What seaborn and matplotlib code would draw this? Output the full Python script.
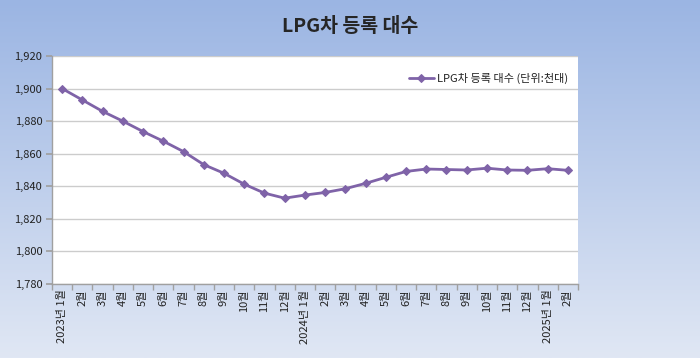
import numpy as np
import pandas as pd
import matplotlib
matplotlib.use("Agg")
import matplotlib.pyplot as plt
import seaborn as sns
from matplotlib.ticker import FuncFormatter

# 월별 LPG차 등록 대수 (단위: 천대)
months = ["2023년 1월", "2월", "3월", "4월", "5월", "6월", "7월", "8월", "9월", "10월", "11월", "12월",
          "2024년 1월", "2월", "3월", "4월", "5월", "6월", "7월", "8월", "9월", "10월", "11월", "12월",
          "2025년 1월", "2월"]
values = [1900.0, 1893.0, 1886.0, 1880.0, 1873.6, 1867.7, 1861.3, 1853.3, 1848.0, 1841.3, 1835.8, 1832.7,
          1834.6, 1836.2, 1838.5, 1841.8, 1845.5, 1849.1, 1850.6, 1850.3, 1850.0, 1851.1, 1850.0, 1849.8,
          1850.8, 1849.8]
series_name = "LPG차 등록 대수 (단위:천대)"
yticks = [1780, 1800, 1820, 1840, 1860, 1880, 1900, 1920]

df = pd.DataFrame({"idx": range(len(months)), "month": months, "value": values})

sns.set_theme(style="white")
plt.rcParams["font.family"] = ["Noto Sans CJK KR", "DejaVu Sans"]

fig = plt.figure(figsize=(7, 3.58), dpi=100)

# 배경 그라데이션
bg = fig.add_axes([0, 0, 1, 1], zorder=-10)
top = np.array([0x9b, 0xb5, 0xe3]) / 255
bottom = np.array([0xe0, 0xe7, 0xf4]) / 255
t = np.linspace(0, 1, 256)[:, None]
grad = top * (1 - t) + bottom * t
bg.imshow(grad[:, None, :], aspect="auto", extent=[0, 1, 0, 1])
bg.axis("off")

ax = fig.add_axes([0.0743, 0.2067, 0.7514, 0.6369])
ax.set_facecolor("white")

color = "#7f63a8"
sns.lineplot(data=df, x="idx", y="value", ax=ax, color=color, linewidth=2,
             marker="D", markersize=4.5, markeredgecolor=color, label=series_name)

ax.set_xlim(-0.5, len(months) - 0.5)
ax.set_ylim(1780, 1920)
ax.set_yticks(yticks)
ax.yaxis.set_major_formatter(FuncFormatter(lambda v, p: f"{int(v):,}"))
ax.grid(axis="y", color="#cccccc", linewidth=1)
ax.set_axisbelow(True)

ax.set_xticks(range(len(months)))
ax.set_xticklabels(months, rotation=90, fontsize=8, color="#222222")
ax.set_xticks(np.arange(-0.5, len(months)), minor=True)
ax.tick_params(axis="x", which="major", length=0, pad=4)
ax.tick_params(axis="x", which="minor", length=4, color="#a0a0a0", bottom=True)
ax.tick_params(axis="y", labelsize=8, labelcolor="#222222", length=4, color="#a0a0a0", left=True, pad=3)
ax.set_xlabel("")
ax.set_ylabel("")

for s in ["top", "right"]:
    ax.spines[s].set_visible(False)
for s in ["left", "bottom"]:
    ax.spines[s].set_color("#a0a0a0")
    ax.spines[s].set_linewidth(1)

leg = ax.legend(loc="upper right", frameon=False, fontsize=8, handlelength=2.2,
                handletextpad=0.3, bbox_to_anchor=(1.0, 0.97))
for txt in leg.get_texts():
    txt.set_color("#222222")

fig.text(0.5, 0.925, "LPG차 등록 대수", ha="center", va="center", fontsize=14, fontweight="bold")

fig.savefig("out.png", dpi=100)
